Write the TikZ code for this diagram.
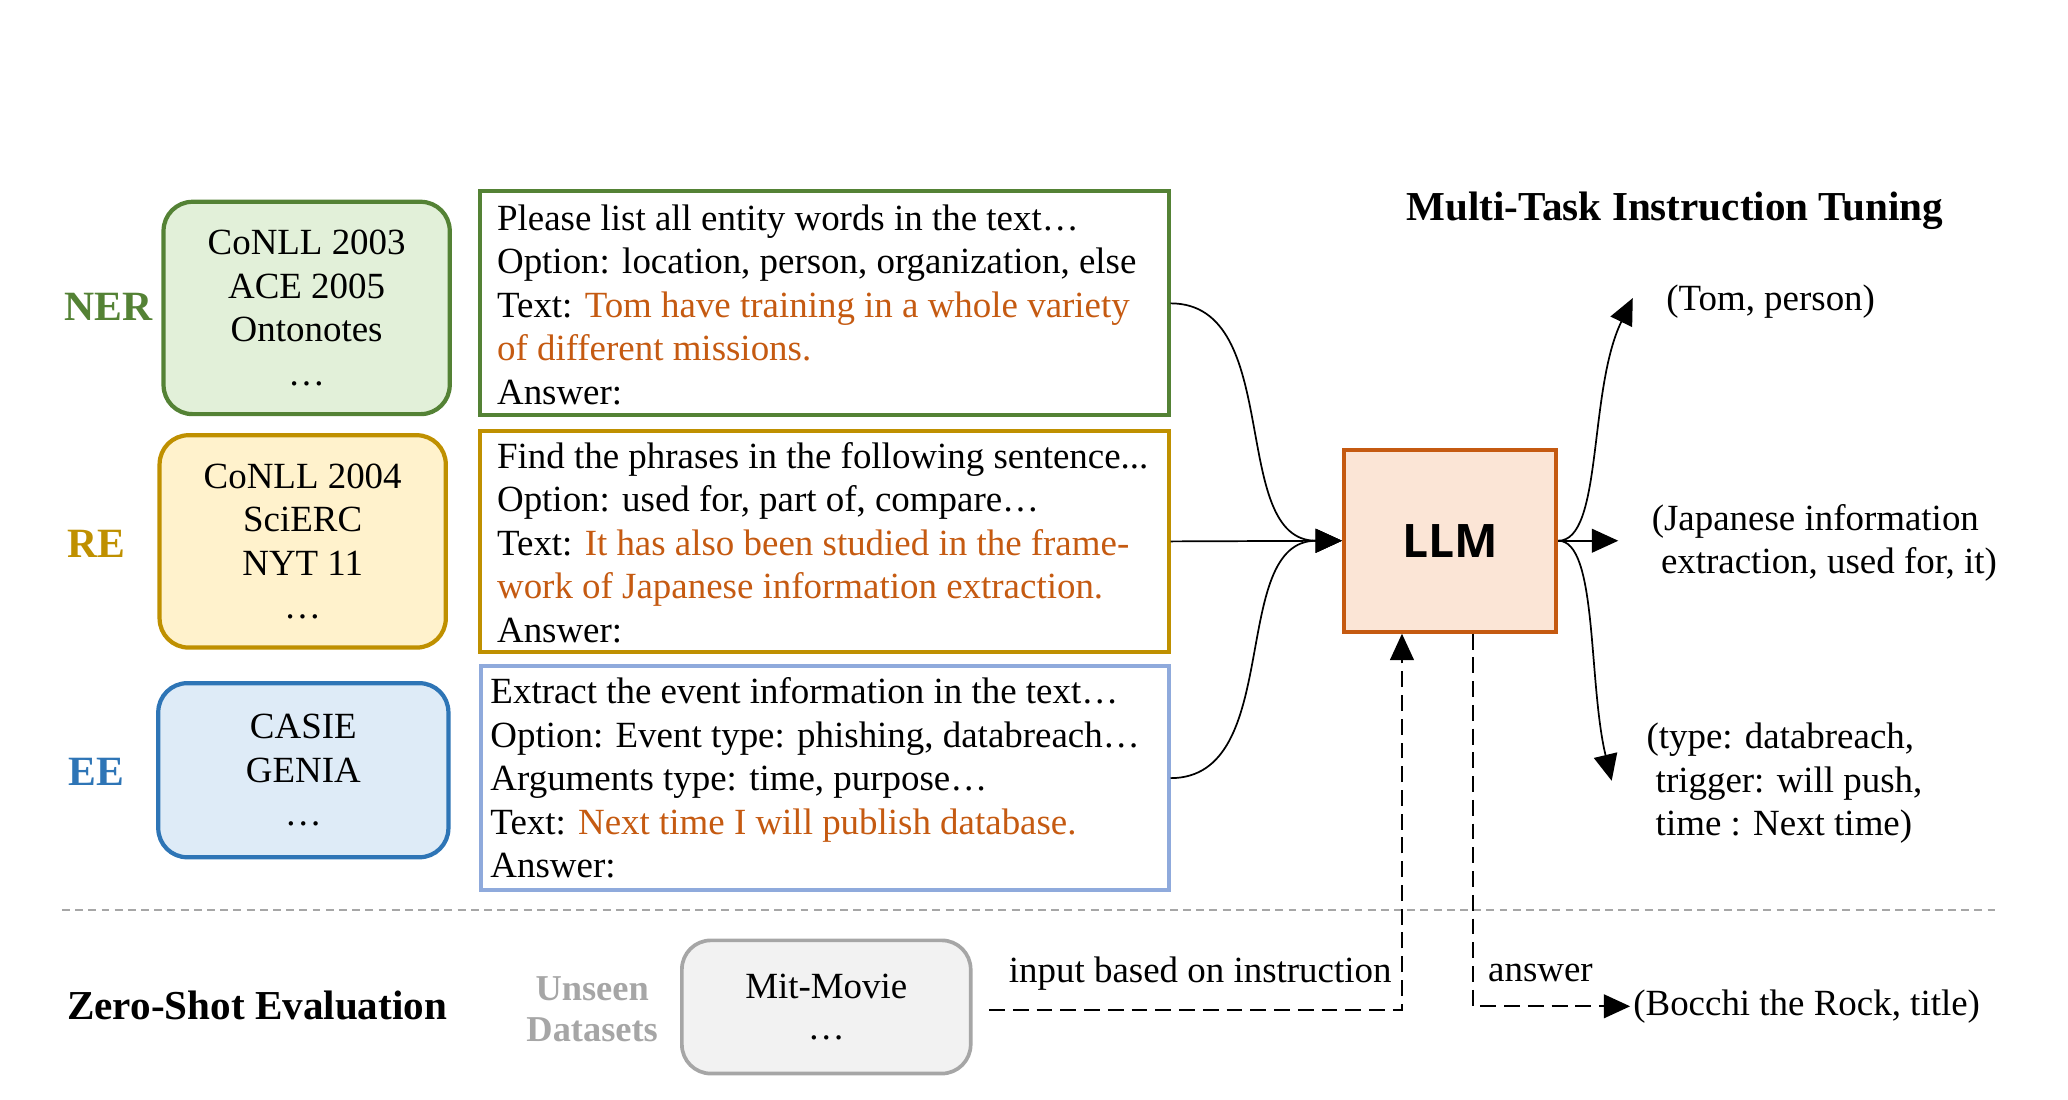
\documentclass[tikz,border=0pt]{standalone}
\usepackage{fontspec}
\setmainfont{Liberation Serif}
\newfontfamily\llmfont{Open Sans}
\usetikzlibrary{arrows.meta,calc}
\definecolor{nergreen}{HTML}{548235}
\definecolor{nerfill}{HTML}{E2F0D9}
\definecolor{regold}{HTML}{BF9000}
\definecolor{refill}{HTML}{FFF2CC}
\definecolor{eeblue}{HTML}{2E75B6}
\definecolor{eefill}{HTML}{DEEBF7}
\definecolor{eelight}{HTML}{8FAADC}
\definecolor{hl}{HTML}{C55A11}
\definecolor{llmfill}{HTML}{FBE5D6}
\definecolor{unseen}{HTML}{A6A6A6}
\definecolor{mitfill}{HTML}{F2F2F2}
\begin{document}
\begin{tikzpicture}[x=0.5pt,y=-0.5pt,
  every node/.style={font=\fontsize{14}{16.5}\selectfont},
  txt/.style={inner sep=0pt},
  tasklabel/.style={inner sep=0pt,font=\fontsize{15.8}{18}\selectfont\bfseries},
  dsbox/.style={draw,rounded corners=11pt,line width=1.6pt,align=center,inner sep=0pt},
  prbox/.style={draw,line width=1.5pt,inner sep=0pt},
  conn/.style={line width=0.65pt,-{Triangle[length=10pt,width=9pt]}},
  dashconn/.style={line width=0.8pt,dash pattern=on 6pt off 3pt,-{Triangle[length=10pt,width=9pt]}}
]
\useasboundingbox (0,0) rectangle (1568,834);

% task labels
\node[tasklabel,text=nergreen] (nerl) at (82,233) {NER};
\node[tasklabel,text=regold] (rel) at (73,412) {RE};
\node[tasklabel,text=eeblue] (eel) at (73,585) {EE};

% dataset boxes
\node[dsbox,draw=nergreen,fill=nerfill,minimum width=108.5pt,minimum height=80.5pt] (nerds) at (232.5,233.5)
  {CoNLL 2003\\ACE 2005\\Ontonotes\\…};
\node[dsbox,draw=regold,fill=refill,minimum width=108.5pt,minimum height=80.5pt] (reds) at (229.5,410.5)
  {CoNLL 2004\\SciERC\\NYT 11\\…};
\node[dsbox,draw=eeblue,fill=eefill,minimum width=110pt,minimum height=66pt] (eeds) at (230,584)
  {CASIE\\GENIA\\…};

% prompt boxes
\node[prbox,draw=nergreen,minimum width=261pt,minimum height=85pt] (nerp) at (625,230) {};
\node[prbox,draw=regold,minimum width=261pt,minimum height=83.5pt] (rep) at (625,410.5) {};
\node[prbox,draw=eelight,minimum width=260.5pt,minimum height=85pt] (eep) at (625.5,590) {};

\node[txt,anchor=west,align=left] (nerpt) at ($(nerp.west)+(14,1)$)
  {Please list all entity words in the text…\\
   Option: location, person, organization, else\\
   Text: \textcolor{hl}{Tom have training in a whole variety}\\
   \textcolor{hl}{of different missions.}\\
   Answer:};
\node[txt,anchor=west,align=left] (rept) at ($(rep.west)+(14,1)$)
  {Find the phrases in the following sentence...\\
   Option: used for, part of, compare…\\
   Text: \textcolor{hl}{It has also been studied in the frame-}\\
   \textcolor{hl}{work of Japanese information extraction.}\\
   Answer:};
\node[txt,anchor=west,align=left] (eept) at ($(eep.west)+(8,0)$)
  {Extract the event information in the text…\\
   Option: Event type: phishing, databreach…\\
   Arguments type: time, purpose…\\
   Text: \textcolor{hl}{Next time I will publish database.}\\
   Answer:};

% LLM
\node[draw=hl,fill=llmfill,line width=1.5pt,minimum width=80.5pt,minimum height=69pt,
  font=\llmfont\bfseries\fontsize{17.5}{20}\selectfont] (llm) at (1099.5,410) {LLM};

% title
\node[txt,font=\fontsize{15.6}{18}\selectfont\bfseries] (title) at (1270,160) {Multi-Task Instruction Tuning};

% outputs
\node[txt,anchor=west] (tom) at (1263,229) {(Tom, person)};
\node[txt,anchor=west,align=left] (jp) at (1252,411.5)
  {(Japanese information\\\hspace*{0.25em}extraction, used for, it)};
\node[txt,anchor=west,align=left] (ty) at (1248,594)
  {(type: databreach,\\\hspace*{0.25em}trigger: will push,\\\hspace*{0.25em}time : Next time)};

\coordinate (tomarr) at (1238,226);
\coordinate (jparr) at (1227,410);
\coordinate (tyarr) at (1222,592);

% input connectors
\draw[conn] (nerp.east) to[out=0,in=180] (llm.west);
\draw[conn] (rep.east) -- (llm.west);
\draw[conn] (eep.east) to[out=0,in=180] (llm.west);

% output connectors
\draw[conn] (llm.east) .. controls ($(llm.east)+(34,0)$) and ($(tomarr)+(-34,70)$) .. (tomarr);
\draw[conn] (llm.east) -- (jparr);
\draw[conn] (llm.east) .. controls ($(llm.east)+(30,0)$) and ($(tyarr)+(-18,-75)$) .. (tyarr);

% separator
\draw[unseen,line width=0.8pt,dash pattern=on 3pt off 2pt] (47,690) -- (1515,690);

% zero-shot part
\node[txt,font=\fontsize{15.6}{18}\selectfont\bfseries] (zs) at (195,762) {Zero-Shot Evaluation};
\node[txt,align=center,text=unseen,font=\fontsize{13.8}{15.5}\selectfont\bfseries] (uns) at (449,765) {Unseen\\Datasets};
\node[dsbox,draw=unseen,fill=mitfill,line width=1.4pt,minimum width=109.5pt,minimum height=50.5pt] (mit) at (626.5,763.5)
  {Mit-Movie\\[-1pt]…};

\node[txt,anchor=west] (bocchi) at (1238,763) {(Bocchi the Rock, title)};
\coordinate (instart) at (750,766);

\draw[dashconn] (instart) -| ($(llm.south)+(-36.5,0)$);
\draw[dashconn] ($(llm.south)+(17.5,0)$) |- ([xshift=-1pt]bocchi.west);

\node[txt] (inlab) at (910,738) {input based on instruction};
\node[txt] (anslab) at (1168,738) {answer};
\end{tikzpicture}
\end{document}
